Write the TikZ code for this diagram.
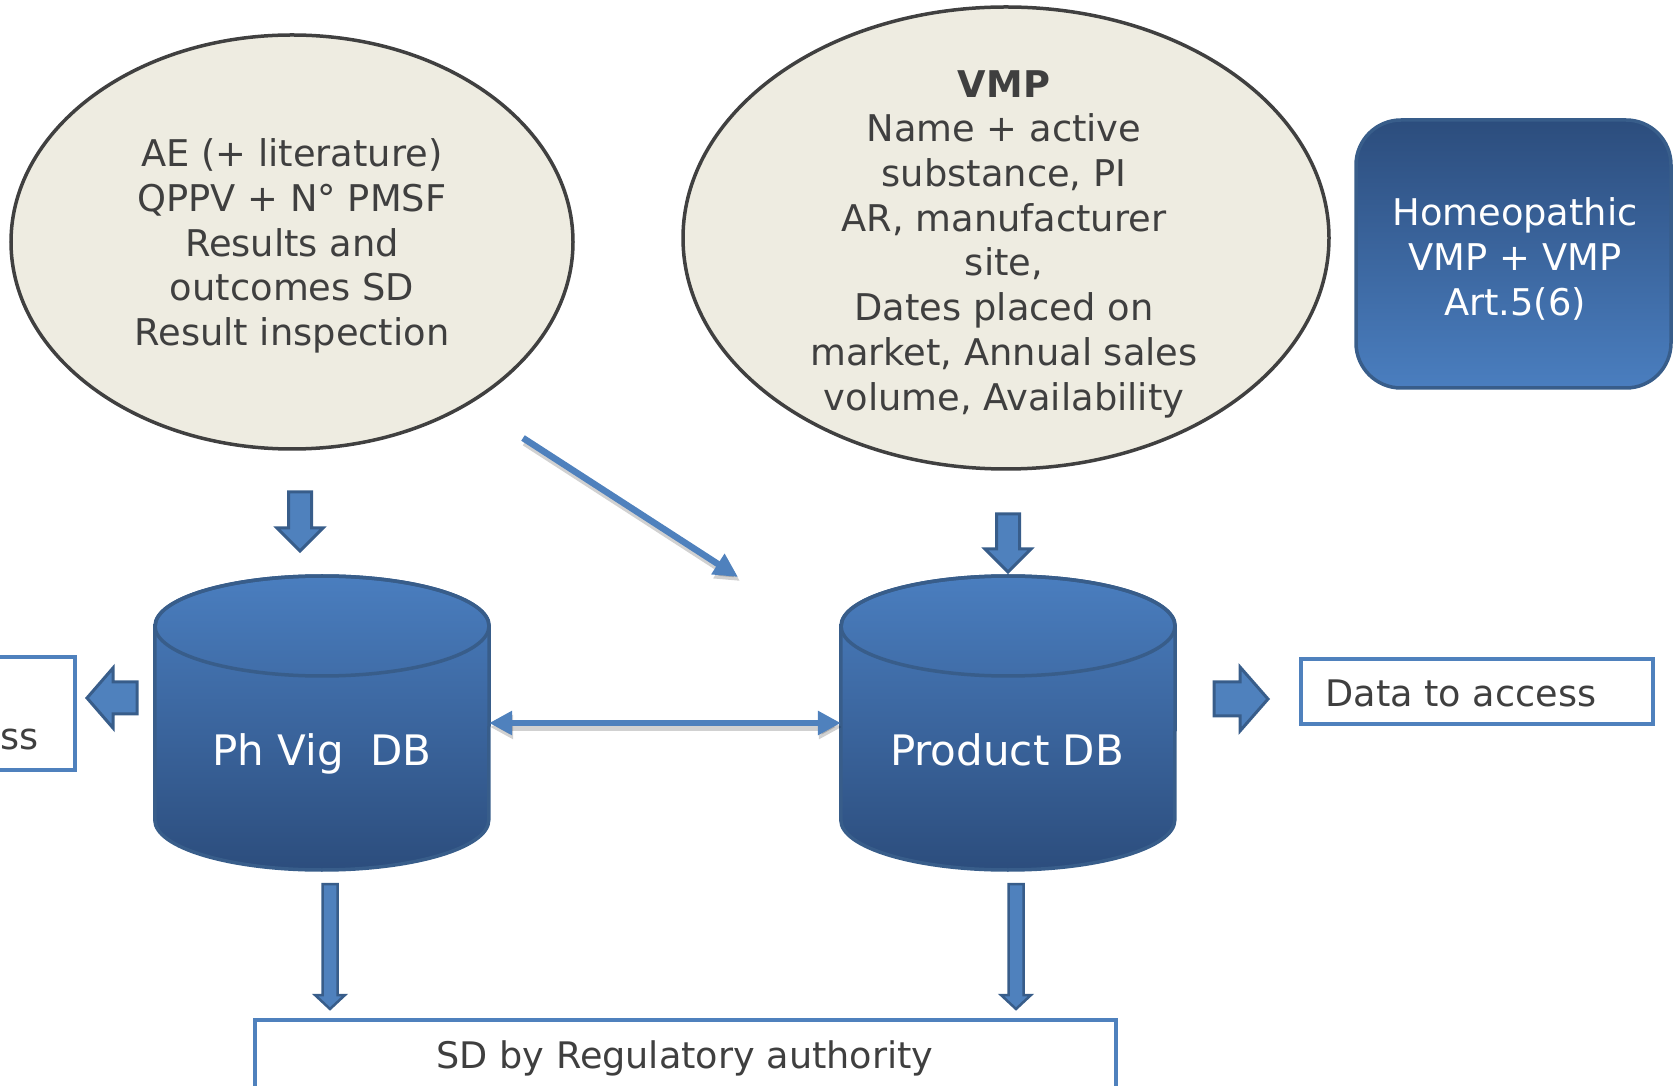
\documentclass[tikz,border=0pt]{standalone}
\usepackage{fontspec}
\setmainfont{DejaVu Sans}
\usetikzlibrary{shapes.geometric,arrows.meta}
\definecolor{ellfill}{HTML}{EEECE1}
\definecolor{ellline}{HTML}{404040}
\definecolor{txt}{HTML}{3F3F3F}
\definecolor{accent}{HTML}{4F81BD}
\definecolor{accentdk}{HTML}{385D8A}
\definecolor{gradlight}{HTML}{4A7EBF}
\definecolor{graddark}{HTML}{2C4D7D}
\tikzset{
  ellshape/.style={ellipse, draw=ellline, fill=ellfill, line width=3.5pt, inner sep=0pt},
  elltext/.style={align=center, text=txt, font=\fontsize{36.8pt}{44.7pt}\selectfont, inner sep=0pt},
  boxtext/.style={text=txt, font=\fontsize{36.6pt}{44.7pt}\selectfont},
  outbox/.style={draw=accent, fill=white, line width=3.5pt, inner sep=0pt},
  blockarrow/.style={fill=accent, draw=accentdk, line width=3pt, line join=miter},
  thinarrow/.style={draw=accent, line width=6.5pt},
  shadowline/.style={draw=black, opacity=0.18, line width=8pt},
  dbtext/.style={text=white, font=\fontsize{42pt}{50pt}\selectfont},
  dbframe/.style={minimum width=334pt, minimum height=294pt, inner sep=0pt},
  dbbody/.style={top color=gradlight, bottom color=graddark, draw=accentdk, line width=3.5pt},
}
\begin{document}
\begin{tikzpicture}[x=1pt,y=1pt]
\path[use as bounding box] (0,0) rectangle (1675,1085);
\clip (0,0) rectangle (1675,1085);

% Ellipses
\node[ellshape, minimum width=562pt, minimum height=414pt] (ae) at (292,843) {};
\node[elltext] (aetxt) at (292,839) {AE (+ literature)\\QPPV + N° PMSF\\Results and\\outcomes SD\\Result inspection};

\node[ellshape, minimum width=646pt, minimum height=462pt] (vmp) at (1006,847) {};
\node[elltext] (vmptxt) at (1004,841) {\textbf{VMP}\\Name + active\\substance, PI\\AR, manufacturer\\site,\\Dates placed on\\market, Annual sales\\volume, Availability};

% Homeopathic box
\node[rounded corners=45pt, minimum width=315pt, minimum height=268pt, top color=graddark, bottom color=gradlight, draw=accentdk, line width=3.5pt, align=center, text=white, font=\fontsize{36.8pt}{44.7pt}\selectfont] (homeo) at (1513.5,831) {};
\node[align=center, text=white, font=\fontsize{36.8pt}{44.7pt}\selectfont, inner sep=0pt] (homeotxt) at (1515,826) {Homeopathic\\VMP + VMP\\Art.5(6)};

% Cylinders
\node[dbframe] (phvig) at (322,362) {};
\shade[dbbody] (phvig.west |- 0,459) -- (phvig.west |- 0,265) arc[start angle=180,end angle=360,x radius=167,y radius=50] -- (phvig.east |- 0,459) arc[start angle=0,end angle=180,x radius=167,y radius=50] -- cycle;
\draw[accentdk, line width=3.5pt] (322,459) ellipse[x radius=167,y radius=50];
\node[dbtext, anchor=base] (phvigtxt) at (322,320) {Ph Vig\ \ DB};

\node[dbframe] (prod) at (1008,362) {};
\shade[dbbody] (prod.west |- 0,459) -- (prod.west |- 0,265) arc[start angle=180,end angle=360,x radius=167,y radius=50] -- (prod.east |- 0,459) arc[start angle=0,end angle=180,x radius=167,y radius=50] -- cycle;
\draw[accentdk, line width=3.5pt] (1008,459) ellipse[x radius=167,y radius=50];
\node[dbtext, anchor=base] (prodtxt) at (1007,320) {Product DB};

% Output boxes
\node[outbox, minimum width=352pt, minimum height=65pt] (dataR) at (1477,393.5) {};
\node[boxtext, anchor=west] (dataRtxt) at (1322,392) {Data to access};

\node[outbox, minimum width=360pt, minimum height=113pt] (dataL) at (-105,371.5) {};
\node[boxtext, anchor=base west, inner sep=0pt] (dataLtxt) at (0.5,335) {ss};

\node[outbox, minimum width=861pt, minimum height=100pt] (sd) at (685.5,15) {};
\node[boxtext] (sdtxt) at (685,27) {SD by Regulatory authority};

% Block arrows
\draw[blockarrow] (288.5,593) -- (311.5,593) -- (311.5,557) -- (323,557) -- (300,534) -- (277,557) -- (288.5,557) -- cycle;
\draw[blockarrow] (996.5,571) -- (1019.5,571) -- (1019.5,536) -- (1031,536) -- (1008,513) -- (985,536) -- (996.5,536) -- cycle;
\draw[blockarrow] (137,403) -- (137,371) -- (113,371) -- (113,357) -- (87,387) -- (113,417) -- (113,403) -- cycle;
\draw[blockarrow] (1214,403) -- (1214,369) -- (1240,369) -- (1240,354) -- (1268,386) -- (1240,418) -- (1240,403) -- cycle;
\draw[blockarrow, line width=2.5pt] (322.5,201) -- (337.5,201) -- (337.5,90) -- (345,90) -- (330,76) -- (315,90) -- (322.5,90) -- cycle;
\draw[blockarrow, line width=2.5pt] (1008.5,201) -- (1023.5,201) -- (1023.5,90) -- (1031,90) -- (1016,76) -- (1001,90) -- (1008.5,90) -- cycle;

% Thin arrows with shadow
\coordinate (dS) at (523,647);
\coordinate (dE) at (738,508);
\draw[shadowline, -{Triangle[length=24pt,width=23pt]}] ([shift={(2,-4)}]dS) -- ([shift={(2,-4)}]dE);
\draw[thinarrow, -{Triangle[length=24pt,width=23pt]}] (dS) -- (dE);

\draw[shadowline, {Triangle[length=23pt,width=23pt]}-{Triangle[length=23pt,width=23pt]}] ([shift={(1,-4)}]phvig.east) -- ([shift={(1,-4)}]prod.west);
\draw[thinarrow, {Triangle[length=23pt,width=23pt]}-{Triangle[length=23pt,width=23pt]}] (phvig.east) -- (prod.west);
\end{tikzpicture}
\end{document}
